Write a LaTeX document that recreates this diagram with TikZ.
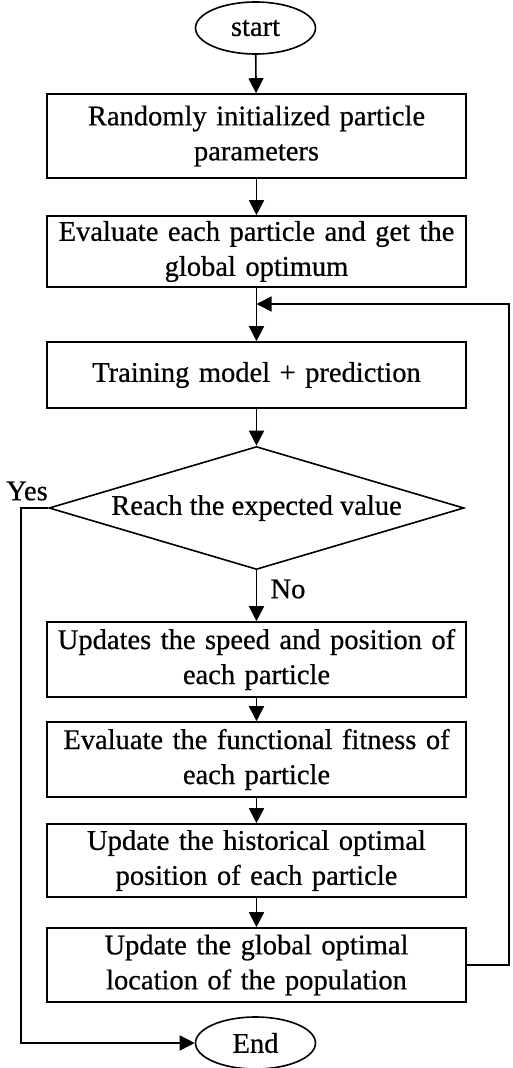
\documentclass[tikz,border=0pt]{standalone}
\usepackage{fontspec}
\setmainfont{Liberation Serif}[FakeBold=0.6]
\usetikzlibrary{shapes.geometric,arrows.meta}
\begin{document}
\begin{tikzpicture}[x=1pt,y=-1pt,
  every node/.style={font=\fontsize{28.5}{35}\selectfont},
  stepbox/.style={draw,line width=1.6pt,minimum width=419pt,inner sep=0pt,align=center,text width=410pt},
  term/.style={draw,ellipse,line width=1.6pt,minimum width=120pt,minimum height=52pt,inner sep=0pt},
  decide/.style={draw,diamond,line width=1.6pt,minimum width=415pt,minimum height=123pt,inner sep=0pt,aspect=3.4},
  conn/.style={line width=1.6pt,-{Triangle[width=15pt,length=15pt]}},
  plain/.style={line width=1.6pt}]
\useasboundingbox (0,0) rectangle (512,1068);
\node[term] (start) at (255.5,28) {start};
\node[stepbox,minimum height=84pt] (b1) at (256.5,136) {Randomly initialized particle\\parameters};
\node[stepbox,minimum height=71pt] (b2) at (256.5,251.5) {Evaluate each particle and get the\\global optimum};
\node[stepbox,minimum height=66pt] (b3) at (256.5,375) {Training model + prediction};
\node[decide] (d) at (256.5,508) {Reach the expected value};
\node[stepbox,minimum height=75pt] (b4) at (256.5,659.5) {Updates the speed and position of\\each particle};
\node[stepbox,minimum height=75pt] (b5) at (256.5,759.5) {Evaluate the functional fitness of\\each particle};
\node[stepbox,minimum height=73pt] (b6) at (256.5,860.5) {Update the historical optimal\\position of each particle};
\node[stepbox,minimum height=74pt] (b7) at (256.5,965) {Update the global optimal\\location of the population};
\node[term] (end) at (255.5,1043) {End};
\node (yes) at (27,491) {Yes};
\node (no) at (288,589) {No};
\coordinate (j) at (256.5,304);
\coordinate (r1) at (509,965);
\coordinate (r2) at (509,304);
\coordinate (l1) at (21,508);
\coordinate (l2) at (21,1043);
\draw[conn] (start) -- (b1);
\draw[conn] (b1) -- (b2);
\draw[conn] (b2) -- (b3);
\draw[conn] (b3) -- (d);
\draw[conn] (d) -- (b4);
\draw[conn] (b4) -- (b5);
\draw[conn] (b5) -- (b6);
\draw[conn] (b6) -- (b7);
\draw[conn] (b7.east) -- (r1) -- (r2) -- (j);
\draw[conn] (d.west) -- (l1) -- (l2) -- (end.west);
\end{tikzpicture}
\end{document}
